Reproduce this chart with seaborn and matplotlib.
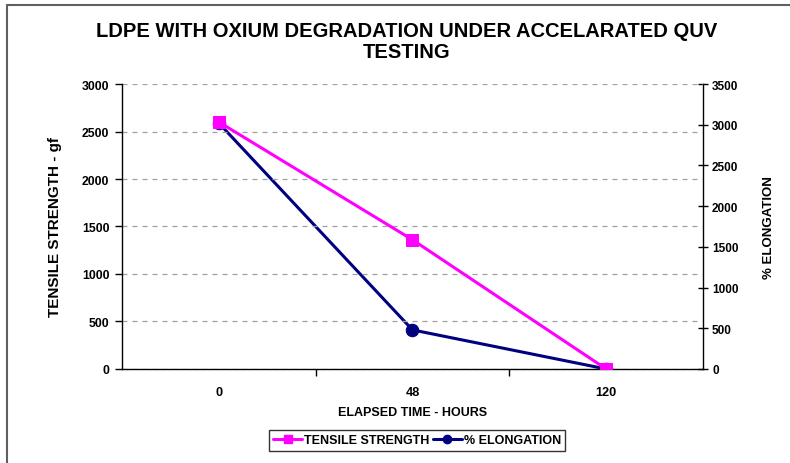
import matplotlib
matplotlib.use("Agg")
import matplotlib.pyplot as plt
import seaborn as sns
import pandas as pd
from matplotlib.lines import Line2D
from matplotlib.ticker import FixedLocator, NullFormatter

hours = ["0", "48", "120"]
tensile = [2600, 1360, 0]
elongation = [3020, 480, 0]

sns.set_theme(style="white")
plt.rcParams['font.family'] = ['Liberation Sans', 'DejaVu Sans']
plt.rcParams['text.color'] = 'black'
plt.rcParams['axes.labelcolor'] = 'black'
plt.rcParams['xtick.color'] = 'black'
plt.rcParams['ytick.color'] = 'black'

fig = plt.figure(figsize=(7.9, 4.64), dpi=100)
ax = fig.add_axes([0.1544, 0.2026, 0.7355, 0.6142])
ax2 = ax.twinx()

pos = list(range(len(hours)))
df = pd.DataFrame({"pos": pos, "tensile": tensile, "elong": elongation})

ax.set_zorder(ax2.get_zorder() + 1)
ax.patch.set_visible(False)

sns.lineplot(data=df, x="pos", y="tensile", ax=ax, color="#ff00ff", lw=2.2,
             marker="s", markersize=8, markeredgecolor="#ff00ff", zorder=3)
sns.lineplot(data=df, x="pos", y="elong", ax=ax2, color="#000080", lw=2.2,
             marker="o", markersize=9, markeredgecolor="#000080", zorder=3)

ax.set_xlim(-0.5, 2.5)
ax.set_ylim(0, 3000)
ax2.set_ylim(0, 3500)
ax.set_yticks(range(0, 3001, 500))
ax2.set_yticks(range(0, 3501, 500))
ax.set_xticks(pos)
ax.set_xticklabels(hours)
ax.xaxis.set_minor_locator(FixedLocator([0.5, 1.5]))
ax.xaxis.set_minor_formatter(NullFormatter())

for a in (ax, ax2):
    for s in a.spines.values():
        s.set_visible(False)
ax.spines['left'].set_visible(True)
ax.spines['bottom'].set_visible(True)
ax2.spines['right'].set_visible(True)
for s in (ax.spines['left'], ax.spines['bottom'], ax2.spines['right']):
    s.set_color("black")
    s.set_linewidth(1.0)

ax.yaxis.grid(True, linestyle=(0, (4, 4)), color="#a0a0a0", lw=0.9)
ax.xaxis.grid(False)
ax2.grid(False)

ax.tick_params(axis='y', which='major', direction='out', length=5, width=1,
               color='black', left=True, labelsize=8.8, pad=4)
ax.tick_params(axis='x', which='major', length=0, labelsize=9.2, pad=12)
ax.tick_params(axis='x', which='minor', direction='out', length=5, width=1,
               color='black', bottom=True)
ax2.tick_params(axis='y', direction='inout', length=7, width=1, color='black',
                right=True, labelsize=8.5, pad=3)
for lab in ax.get_yticklabels() + ax.get_xticklabels() + ax2.get_yticklabels():
    lab.set_fontweight('bold')

ax.set_xlabel("ELAPSED TIME - HOURS", fontsize=9, fontweight='bold')
ax.xaxis.set_label_coords(0.5, -0.13)
ax.set_ylabel("TENSILE STRENGTH - gf", fontsize=11, fontweight='bold')
ax.yaxis.set_label_coords(-0.103, 0.5)
ax2.set_ylabel("% ELONGATION", fontsize=9.5, fontweight='bold', rotation=90)
ax2.yaxis.set_label_coords(1.103, 0.5)

fig.suptitle("LDPE WITH OXIUM DEGRADATION UNDER ACCELARATED QUV\nTESTING",
             x=0.515, y=0.952, fontsize=14.5, fontweight='bold', linespacing=1.1)

handles = [
    Line2D([], [], color="#ff00ff", lw=2.2, marker="s", markersize=6),
    Line2D([], [], color="#000080", lw=2.2, marker="o", markersize=6),
]
leg = fig.legend(handles, ["TENSILE STRENGTH", "% ELONGATION"], ncol=2,
                 loc='center', bbox_to_anchor=(0.528, 0.049), fontsize=9,
                 frameon=True, fancybox=False, handlelength=2.3,
                 handletextpad=0.15, columnspacing=0.3, borderpad=0.35)
leg.get_frame().set_edgecolor("black")
leg.get_frame().set_linewidth(1.0)
for t in leg.get_texts():
    t.set_fontweight('bold')

# figure border (top and left edges)
fig.add_artist(Line2D([0.009, 1.0], [0.987, 0.987], transform=fig.transFigure,
                      color="#606060", lw=1.5))
fig.add_artist(Line2D([0.009, 0.009], [0.0, 0.987], transform=fig.transFigure,
                      color="#606060", lw=1.5))

fig.savefig("out.png", dpi=100)
